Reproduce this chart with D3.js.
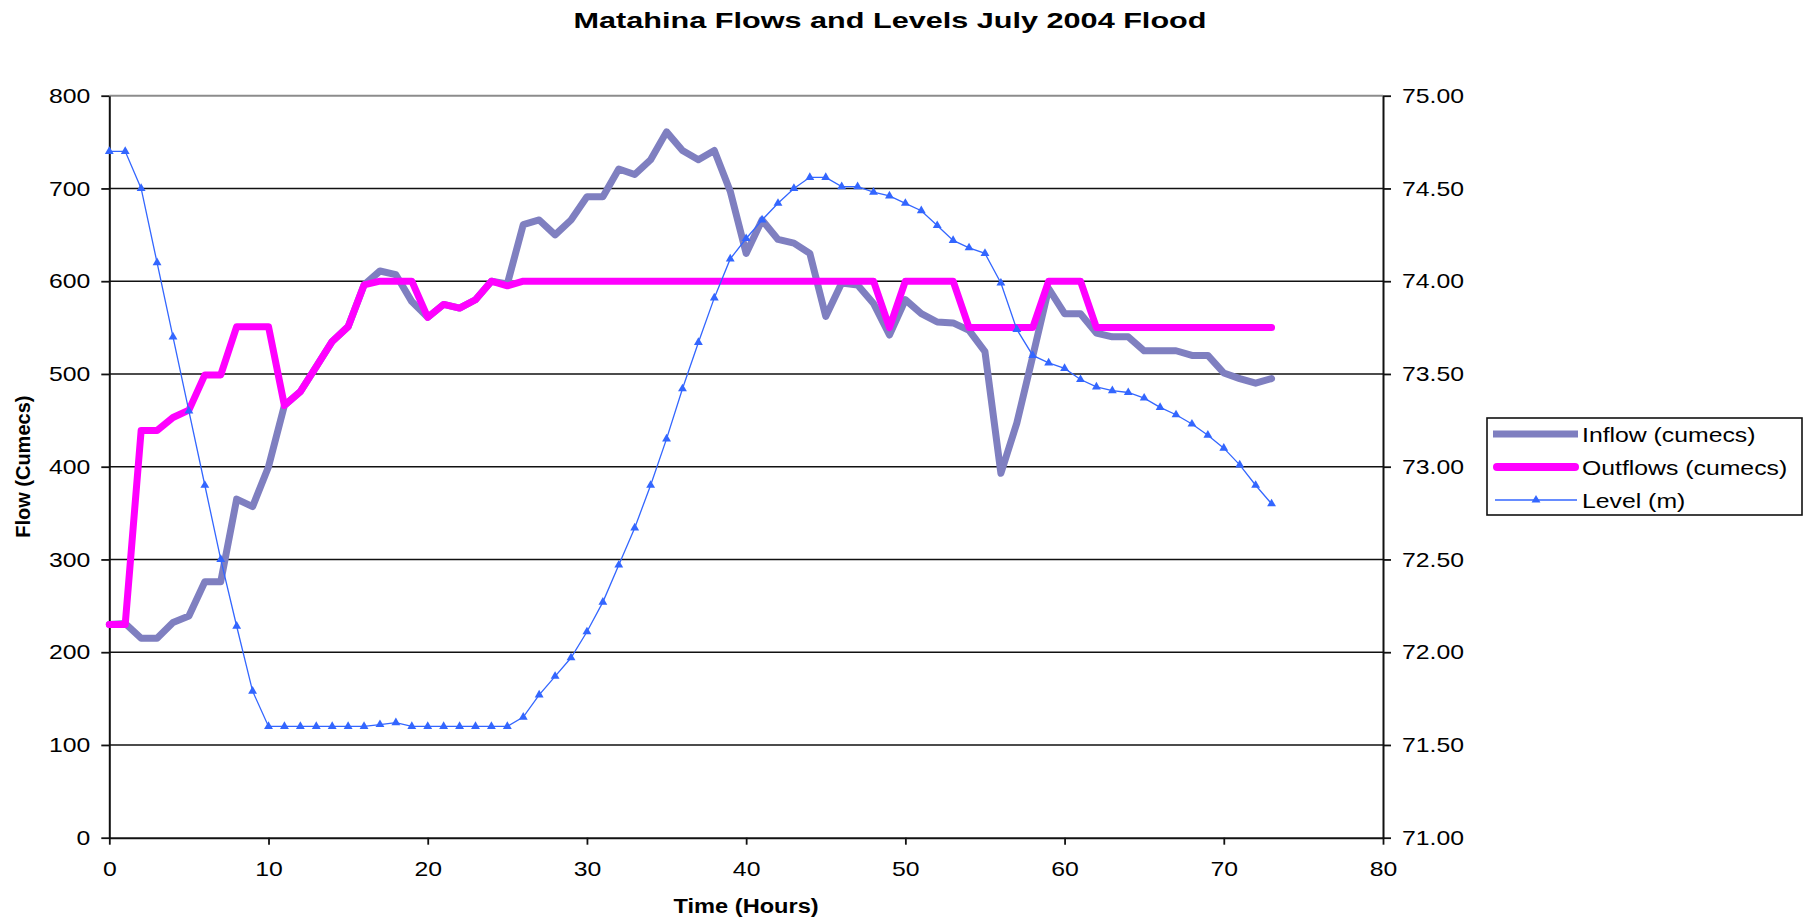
<!DOCTYPE html>
<html>
<head>
<meta charset="utf-8">
<script src="https://cdn.jsdelivr.net/npm/d3@7"></script>
<style>
  html, body { margin: 0; padding: 0; background: #fff; }
  svg { display: block; }
  text { font-family: "Liberation Sans", Arial, sans-serif; fill: #000; }
</style>
</head>
<body>
<svg id="chart" width="1806" height="922"></svg>
<script>
// Matahina dam, July 2004 flood: hourly inflow, outflow and lake level
const hours = [0,1,2,3,4,5,6,7,8,9,10,11,12,13,14,15,16,17,18,19,20,21,22,23,24,25,26,27,28,29,30,31,32,33,34,35,36,37,38,39,40,41,42,43,44,45,46,47,48,49,50,51,52,53,54,55,56,57,58,59,60,61,62,63,64,65,66,67,68,69,70,71,72,73];

const inflow = [230,231,215,215,232,239,276,276,365,357,400,466,481,508,535,551,596,611,607,578,
  561,575,571,580,600,597,661,666,650,666,691,691,721,715,731,761,741,731,741,697,
  630,666,645,641,630,562,598,596,576,542,580,565,556,555,547,524,393,447,519,592,
  565,565,544,540,540,525,525,525,520,520,501,495,490,495];

const outflow = [230,230,439,439,453,461,499,499,551,551,551,466,481,508,535,551,596,600,600,600,
  561,575,571,580,600,595,600,600,600,600,600,600,600,600,600,600,600,600,600,600,
  600,600,600,600,600,600,600,600,600,550,600,600,600,600,550,550,550,550,550,600,
  600,600,550,550,550,550,550,550,550,550,550,550,550,550];

const level = [74.70,74.70,74.50,74.10,73.70,73.30,72.90,72.50,72.14,71.79,
  71.60,71.60,71.60,71.60,71.60,71.60,71.60,71.61,71.62,71.60,71.60,71.60,71.60,71.60,71.60,71.60,
  71.65,71.77,71.87,71.97,72.11,72.27,72.47,72.67,72.90,73.15,
  73.42,73.67,73.91,74.12,74.23,74.33,74.42,74.50,74.56,74.56,
  74.51,74.51,74.48,74.46,74.42,74.38,74.30,74.22,74.18,74.15,
  73.99,73.74,73.60,73.56,73.53,73.47,73.43,73.41,73.40,73.37,
  73.32,73.28,73.23,73.17,73.10,73.01,72.90,72.80];

const xTicks = [0,10,20,30,40,50,60,70,80];
const flowTicks = [0,100,200,300,400,500,600,700,800];
const levelTicks = [71,71.5,72,72.5,73,73.5,74,74.5,75];

const seriesNames = ["Inflow (cumecs)", "Outflows (cumecs)", "Level (m)"];
const titleText = "Matahina Flows and Levels July 2004 Flood";
const xTitle = "Time (Hours)";
const yTitle = "Flow (Cumecs)";

const colInflow = "#7f7fc0", colOutflow = "#ff00ff", colLevel = "#3366ff";

const svg = d3.select("#chart");
const plotLeft = 109.3, plotRight = 1383, plotTop = 95.7, plotBottom = 837.7;

const x = d3.scaleLinear().domain([0, 80]).range([plotLeft, plotRight]);
const yFlow = d3.scaleLinear().domain([0, 800]).range([plotBottom, plotTop]);
const yLevel = d3.scaleLinear().domain([71, 75]).range([plotBottom, plotTop]);

// widen glyphs horizontally to the chart's lettering proportions
function stretch(sel, k) {
  sel.each(function () {
    const L = this.getComputedTextLength();
    this.setAttribute("textLength", L * k);
    this.setAttribute("lengthAdjust", "spacingAndGlyphs");
  });
}

// horizontal gridlines
svg.append("g").selectAll("line")
  .data(flowTicks.filter(d => d > 0))
  .join("line")
  .attr("x1", plotLeft).attr("x2", plotRight)
  .attr("y1", d => yFlow(d)).attr("y2", d => yFlow(d))
  .attr("stroke", d => d === 800 ? "#8c8c8c" : "#111")
  .attr("stroke-width", d => d === 800 ? 2 : 1.6);

// axes
function styleAxis(g) {
  g.select(".domain").attr("stroke", "#111").attr("stroke-width", 2);
  g.selectAll(".tick line").attr("stroke", "#111").attr("stroke-width", 1.8);
  g.selectAll("text").attr("font-size", 21).attr("fill", "#111")
    .attr("font-family", '"Liberation Sans", Arial, sans-serif');
}

const gLeft = svg.append("g").attr("transform", `translate(${plotLeft},0)`)
  .call(d3.axisLeft(yFlow).tickValues(flowTicks).tickSize(8).tickSizeOuter(0).tickPadding(11).tickFormat(d3.format("d")));
styleAxis(gLeft);
stretch(gLeft.selectAll("text"), 1.18);

const gRight = svg.append("g").attr("transform", `translate(${plotRight},0)`)
  .call(d3.axisRight(yLevel).tickValues(levelTicks).tickSize(8).tickSizeOuter(0).tickPadding(11).tickFormat(d3.format(".2f")));
styleAxis(gRight);
stretch(gRight.selectAll("text"), 1.18);

const gBottom = svg.append("g").attr("transform", `translate(0,${plotBottom})`)
  .call(d3.axisBottom(x).tickValues(xTicks).tickSize(7).tickSizeOuter(0).tickPadding(16).tickFormat(d3.format("d")));
styleAxis(gBottom);
stretch(gBottom.selectAll("text"), 1.18);

// series lines
const lineFlow = (arr) => d3.line().x((d, i) => x(hours[i])).y(d => yFlow(d))(arr);

svg.append("path")
  .attr("d", lineFlow(inflow))
  .attr("fill", "none").attr("stroke", colInflow).attr("stroke-width", 7)
  .attr("stroke-linejoin", "round").attr("stroke-linecap", "round");

svg.append("path")
  .attr("d", lineFlow(outflow))
  .attr("fill", "none").attr("stroke", colOutflow).attr("stroke-width", 7)
  .attr("stroke-linejoin", "round").attr("stroke-linecap", "round");

svg.append("path")
  .attr("d", d3.line().x((d, i) => x(hours[i])).y(d => yLevel(d))(level))
  .attr("fill", "none").attr("stroke", colLevel).attr("stroke-width", 1.3);

const tri = d3.symbol().type(d3.symbolTriangle).size(34);
svg.append("g").selectAll("path")
  .data(level)
  .join("path")
  .attr("d", tri)
  .attr("transform", (d, i) => `translate(${x(hours[i])},${yLevel(d)})`)
  .attr("fill", colLevel);

// titles
svg.append("text")
  .attr("x", 890).attr("y", 28)
  .attr("text-anchor", "middle")
  .attr("font-size", 22).attr("font-weight", "bold")
  .attr("textLength", 633).attr("lengthAdjust", "spacingAndGlyphs")
  .text(titleText);

const xt = svg.append("text")
  .attr("x", (plotLeft + plotRight) / 2).attr("y", 913)
  .attr("text-anchor", "middle")
  .attr("font-size", 20).attr("font-weight", "bold")
  .text(xTitle);
stretch(xt, 1.18);

svg.append("text")
  .attr("transform", `translate(30,${(plotTop + plotBottom) / 2}) rotate(-90)`)
  .attr("text-anchor", "middle")
  .attr("font-size", 20).attr("font-weight", "bold")
  .text(yTitle);

// legend
const lg = svg.append("g");
lg.append("rect")
  .attr("x", 1487).attr("y", 418).attr("width", 315).attr("height", 97)
  .attr("fill", "#fff").attr("stroke", "#111").attr("stroke-width", 1.6);

const rows = [434, 467, 500];
lg.append("line").attr("x1", 1493).attr("x2", 1578).attr("y1", rows[0]).attr("y2", rows[0])
  .attr("stroke", colInflow).attr("stroke-width", 7);
lg.append("line").attr("x1", 1497).attr("x2", 1575).attr("y1", rows[1]).attr("y2", rows[1])
  .attr("stroke", colOutflow).attr("stroke-width", 8).attr("stroke-linecap", "round");
lg.append("line").attr("x1", 1495).attr("x2", 1577).attr("y1", rows[2]).attr("y2", rows[2])
  .attr("stroke", colLevel).attr("stroke-width", 1.3);
lg.append("path").attr("d", tri).attr("transform", `translate(1536,${rows[2]})`).attr("fill", colLevel);

const lt = lg.selectAll("text.lab")
  .data(seriesNames)
  .join("text")
  .attr("class", "lab")
  .attr("x", 1582).attr("y", (d, i) => rows[i])
  .attr("dy", "0.36em")
  .attr("font-size", 21)
  .text(d => d);
stretch(lt, 1.18);
</script>
</body>
</html>
